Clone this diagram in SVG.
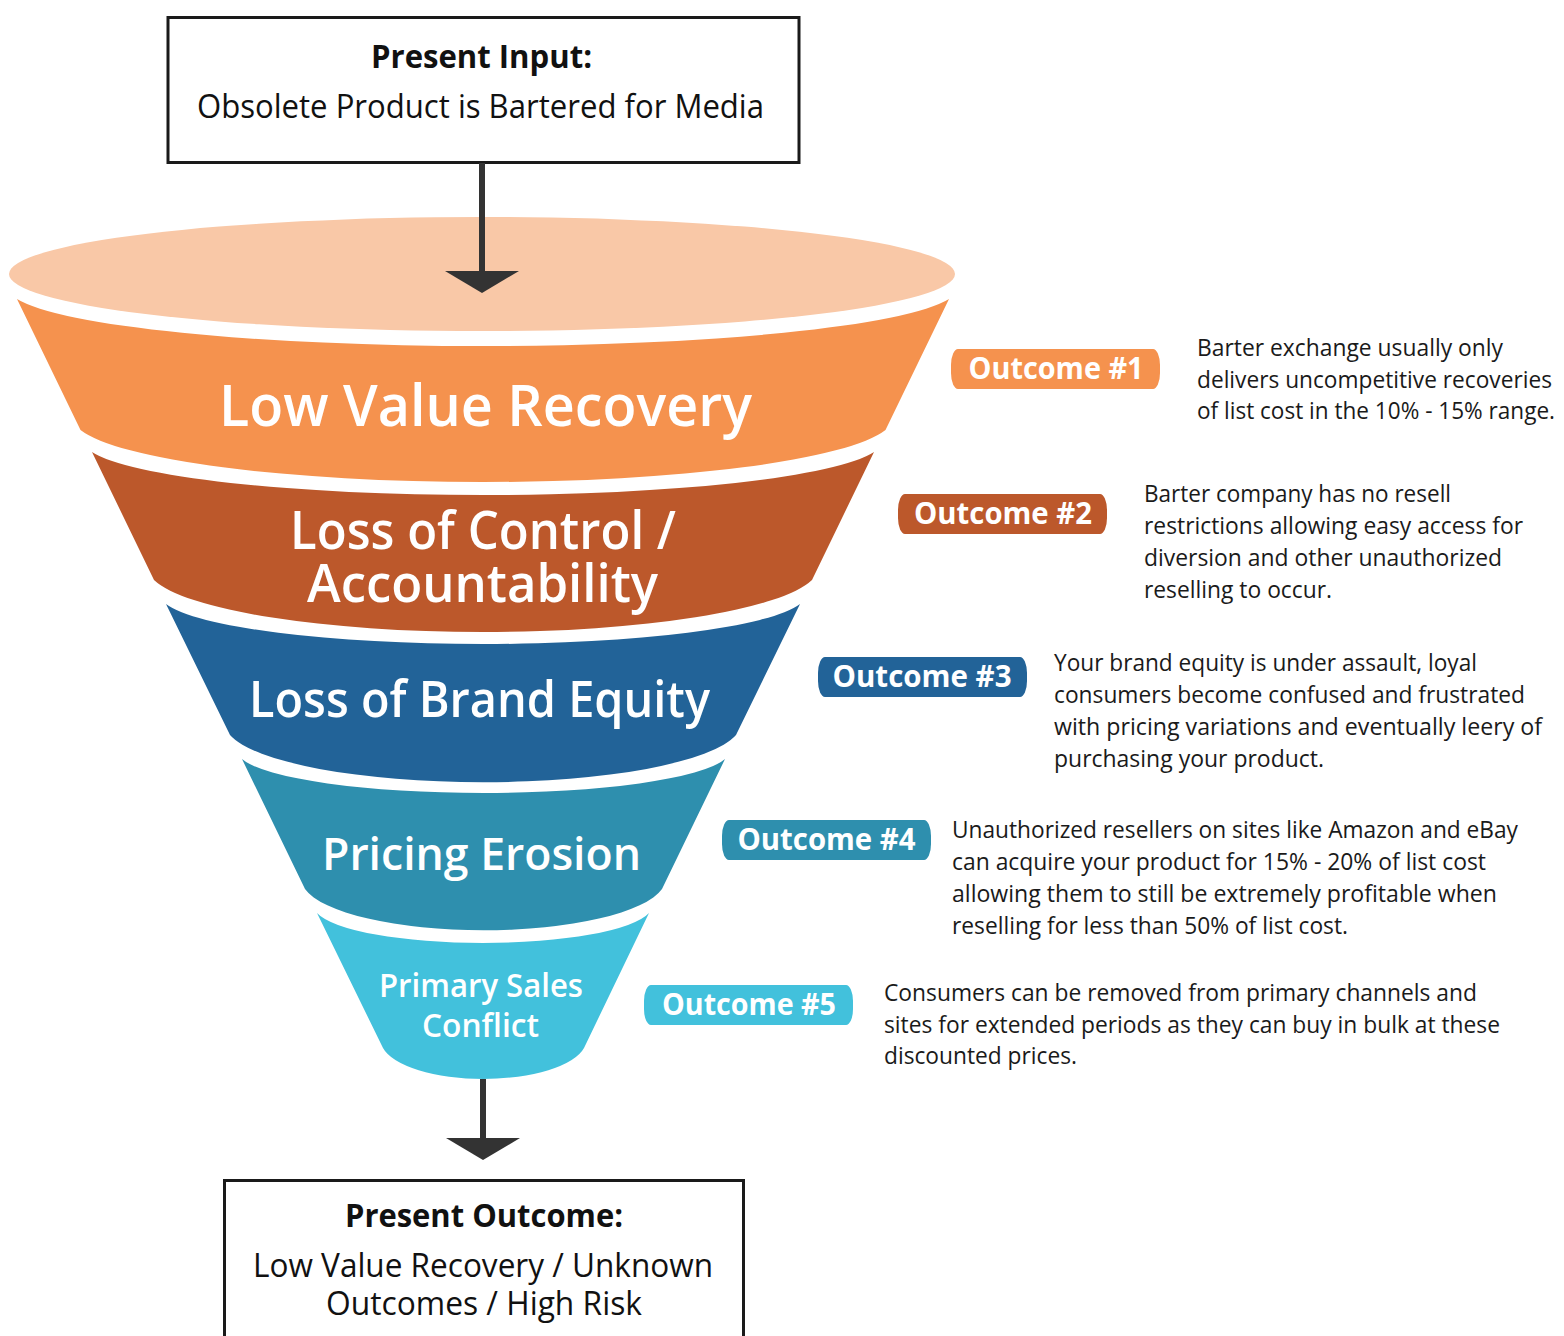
<svg xmlns="http://www.w3.org/2000/svg" width="1564" height="1336" viewBox="0 0 1564 1336">
<defs>
<style>
text{font-family:"Open Sans","Noto Sans","Liberation Sans",sans-serif}
.box{fill:#fff;stroke:#1a1a1a;stroke-width:3}
.bt{font-weight:700;font-size:32px;fill:#111}
.rt{font-size:33px;fill:#111}
.fl{font-weight:600;fill:#fff}
.bd{font-weight:700;font-size:30px;fill:#fff;text-anchor:middle}
.ds{font-size:24px;fill:#1a1a1a}
.conn{stroke:#333;stroke-width:6;fill:none}
</style>
<marker id="ah" markerUnits="userSpaceOnUse" markerWidth="22" markerHeight="74" viewBox="0 0 22 74" refX="0" refY="37" orient="auto">
<path d="M0,0 L22,37 L0,74 Z" fill="#333"/>
</marker>
</defs>
<rect width="1564" height="1336" fill="#fff"/>

<g id="input-box">
<rect class="box" x="168" y="17.5" width="631" height="145"/>
<text class="bt" x="371" y="68" textLength="221" lengthAdjust="spacingAndGlyphs">Present Input:</text>
<text class="rt" x="197" y="118" textLength="567" lengthAdjust="spacingAndGlyphs">Obsolete Product is Bartered for Media</text>
</g>

<g id="funnel-top">
<ellipse cx="482" cy="274" rx="473" ry="57" fill="#F9C8A7"/>
</g>

<g id="stage1">
<path d="M17,299 A475.5,58.7 0 0 0 949,299 L885.5,430 A410.7,64.9 0 0 1 80.5,430 Z" fill="#F5924E"/>
<text class="fl" x="219" y="426" font-size="58" textLength="533" lengthAdjust="spacingAndGlyphs">Low Value Recovery</text>
</g>

<g id="stage2">
<path d="M92,452 A399,53.7 0 0 0 874,452 L812,580 A335.7,64.9 0 0 1 154,580 Z" fill="#BC582B"/>
<text class="fl" font-size="52"><tspan x="290" y="549" textLength="386" lengthAdjust="spacingAndGlyphs">Loss of Control /</tspan><tspan x="307" y="602" textLength="351" lengthAdjust="spacingAndGlyphs">Accountability</tspan></text>
</g>

<g id="stage3">
<path d="M166,604 A323.5,50 0 0 0 800,604 L736,735 A258,58.7 0 0 1 230,735 Z" fill="#226398"/>
<text class="fl" x="249" y="717" font-size="50" textLength="461" lengthAdjust="spacingAndGlyphs">Loss of Brand Equity</text>
</g>

<g id="stage4">
<path d="M242,759 A246.4,42.4 0 0 0 725,759 L662,889 A182,51.2 0 0 1 305,889 Z" fill="#2E8FAE"/>
<text class="fl" x="322" y="870" font-size="46" textLength="319" lengthAdjust="spacingAndGlyphs">Pricing Erosion</text>
</g>

<g id="stage5">
<path d="M317,913 A169.4,37.5 0 0 0 649,913 L584,1048 A102.6,38.7 0 0 1 383,1048 Z" fill="#42C1DC"/>
<text class="fl" font-size="33"><tspan x="379" y="997" textLength="204" lengthAdjust="spacingAndGlyphs">Primary Sales</tspan><tspan x="422" y="1037" textLength="117" lengthAdjust="spacingAndGlyphs">Conflict</tspan></text>
</g>

<g id="outcome1">
<rect x="951" y="349" width="209" height="40" rx="7" ry="16" fill="#F5924E"/>
<text class="bd" x="1056" y="379" textLength="175" lengthAdjust="spacingAndGlyphs">Outcome #1</text>
<text class="ds" x="1197" y="356" textLength="306" lengthAdjust="spacingAndGlyphs">Barter exchange usually only</text>
<text class="ds" x="1197" y="388" textLength="355" lengthAdjust="spacingAndGlyphs">delivers uncompetitive recoveries</text>
<text class="ds" x="1197" y="419" textLength="358" lengthAdjust="spacingAndGlyphs">of list cost in the 10% - 15% range.</text>
</g>

<g id="outcome2">
<rect x="898" y="494" width="209" height="40" rx="7" ry="16" fill="#BC582B"/>
<text class="bd" x="1003" y="524" textLength="178" lengthAdjust="spacingAndGlyphs">Outcome #2</text>
<text class="ds" x="1144" y="502" textLength="307" lengthAdjust="spacingAndGlyphs">Barter company has no resell</text>
<text class="ds" x="1144" y="534" textLength="379" lengthAdjust="spacingAndGlyphs">restrictions allowing easy access for</text>
<text class="ds" x="1144" y="566" textLength="358" lengthAdjust="spacingAndGlyphs">diversion and other unauthorized</text>
<text class="ds" x="1144" y="598" textLength="188" lengthAdjust="spacingAndGlyphs">reselling to occur.</text>
</g>

<g id="outcome3">
<rect x="818" y="657" width="209" height="40" rx="7" ry="16" fill="#226398"/>
<text class="bd" x="922" y="687" textLength="179" lengthAdjust="spacingAndGlyphs">Outcome #3</text>
<text class="ds" x="1054" y="671" textLength="423" lengthAdjust="spacingAndGlyphs">Your brand equity is under assault, loyal</text>
<text class="ds" x="1054" y="703" textLength="471" lengthAdjust="spacingAndGlyphs">consumers become confused and frustrated</text>
<text class="ds" x="1054" y="735" textLength="488" lengthAdjust="spacingAndGlyphs">with pricing variations and eventually leery of</text>
<text class="ds" x="1054" y="767" textLength="270" lengthAdjust="spacingAndGlyphs">purchasing your product.</text>
</g>

<g id="outcome4">
<rect x="722" y="820" width="209" height="40" rx="7" ry="16" fill="#2E8FAE"/>
<text class="bd" x="826.5" y="850" textLength="178" lengthAdjust="spacingAndGlyphs">Outcome #4</text>
<text class="ds" x="952" y="838" textLength="566" lengthAdjust="spacingAndGlyphs">Unauthorized resellers on sites like Amazon and eBay</text>
<text class="ds" x="952" y="870" textLength="534" lengthAdjust="spacingAndGlyphs">can acquire your product for 15% - 20% of list cost</text>
<text class="ds" x="952" y="902" textLength="545" lengthAdjust="spacingAndGlyphs">allowing them to still be extremely profitable when</text>
<text class="ds" x="952" y="934" textLength="396" lengthAdjust="spacingAndGlyphs">reselling for less than 50% of list cost.</text>
</g>

<g id="outcome5">
<rect x="644" y="985" width="209" height="40" rx="7" ry="16" fill="#42C1DC"/>
<text class="bd" x="749" y="1015" textLength="174" lengthAdjust="spacingAndGlyphs">Outcome #5</text>
<text class="ds" x="884" y="1001" textLength="593" lengthAdjust="spacingAndGlyphs">Consumers can be removed from primary channels and</text>
<text class="ds" x="884" y="1033" textLength="616" lengthAdjust="spacingAndGlyphs">sites for extended periods as they can buy in bulk at these</text>
<text class="ds" x="884" y="1064" textLength="193" lengthAdjust="spacingAndGlyphs">discounted prices.</text>
</g>

<g id="outcome-box">
<rect class="box" x="224.5" y="1180.5" width="519" height="200"/>
<text class="bt" x="345" y="1227" textLength="278" lengthAdjust="spacingAndGlyphs">Present Outcome:</text>
<text class="rt"><tspan x="253" y="1277" textLength="460" lengthAdjust="spacingAndGlyphs">Low Value Recovery / Unknown</tspan><tspan x="326" y="1315" textLength="316" lengthAdjust="spacingAndGlyphs">Outcomes / High Risk</tspan></text>
</g>

<g id="connectors">
<path class="conn" d="M482,163 L482,271" marker-end="url(#ah)"/>
<path class="conn" d="M483,1079 L483,1138" marker-end="url(#ah)"/>
</g>
</svg>
